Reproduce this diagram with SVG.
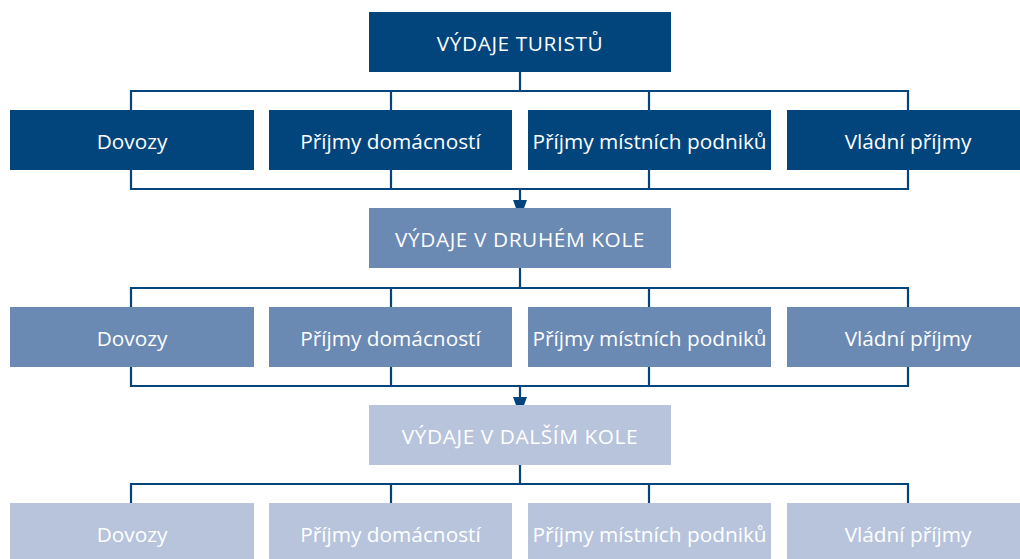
<svg xmlns="http://www.w3.org/2000/svg" width="1020" height="559" viewBox="0 0 1020 559">
  <style>
    .lbl { font-family: "Open Sans", "Noto Sans", "Liberation Sans", sans-serif; font-size: 20.8px; font-weight: 500; fill: #ffffff; text-anchor: middle; }
    .caps { letter-spacing: 0.6px; }
    .dark { fill: #02457c; }
    .mid { fill: #6a89b3; }
    .light { fill: #b7c4dc; }
    .wire { fill: none; stroke: #02457c; stroke-width: 2.2; }
    .head { fill: #02457c; }
  </style>

  <rect width="1020" height="559" fill="#ffffff"/>

  <!-- connectors -->
  <g id="connectors">
    <!-- level 1 -->
    <path class="wire" d="M520 72 V91 M131 110 V91 H908 V110 M391 91 V110 M649 91 V110"/>
    <path class="wire" d="M131 170 V189 H908 V170 M391 170 V189 M649 170 V189 M520 189 V202"/>
    <polygon class="head" points="513,200 527,200 520,219"/>
    <!-- level 2 -->
    <path class="wire" d="M520 268 V288 M131 307 V288 H908 V307 M391 288 V307 M649 288 V307"/>
    <path class="wire" d="M131 367 V386 H908 V367 M391 367 V386 M649 367 V386 M520 386 V399"/>
    <polygon class="head" points="513,397 527,397 520,416"/>
    <!-- level 3 -->
    <path class="wire" d="M520 465 V484 M131 503 V484 H908 V503 M391 484 V503 M649 484 V503"/>
  </g>

  <!-- level 1 -->
  <g id="spend-tourists">
    <rect class="dark" x="369" y="12" width="302" height="60"/>
    <text class="lbl caps" x="520" y="51">VÝDAJE TURISTŮ</text>
  </g>
  <g id="imports-1">
    <rect class="dark" x="10" y="110" width="244" height="60"/>
    <text class="lbl" x="132" y="149">Dovozy</text>
  </g>
  <g id="household-1">
    <rect class="dark" x="269" y="110" width="243" height="60"/>
    <text class="lbl" x="390.5" y="149">Příjmy domácností</text>
  </g>
  <g id="business-1">
    <rect class="dark" x="528" y="110" width="243" height="60"/>
    <text class="lbl" x="649.5" y="149">Příjmy místních podniků</text>
  </g>
  <g id="government-1">
    <rect class="dark" x="787" y="110" width="244" height="60"/>
    <text class="lbl" x="908" y="149">Vládní příjmy</text>
  </g>

  <!-- level 2 -->
  <g id="spend-second">
    <rect class="mid" x="369" y="208" width="302" height="60"/>
    <text class="lbl caps" x="520" y="247">VÝDAJE V DRUHÉM KOLE</text>
  </g>
  <g id="imports-2">
    <rect class="mid" x="10" y="307" width="244" height="60"/>
    <text class="lbl" x="132" y="346">Dovozy</text>
  </g>
  <g id="household-2">
    <rect class="mid" x="269" y="307" width="243" height="60"/>
    <text class="lbl" x="390.5" y="346">Příjmy domácností</text>
  </g>
  <g id="business-2">
    <rect class="mid" x="528" y="307" width="243" height="60"/>
    <text class="lbl" x="649.5" y="346">Příjmy místních podniků</text>
  </g>
  <g id="government-2">
    <rect class="mid" x="787" y="307" width="244" height="60"/>
    <text class="lbl" x="908" y="346">Vládní příjmy</text>
  </g>

  <!-- level 3 -->
  <g id="spend-next">
    <rect class="light" x="369" y="405" width="302" height="60"/>
    <text class="lbl caps" x="520" y="444">VÝDAJE V DALŠÍM KOLE</text>
  </g>
  <g id="imports-3">
    <rect class="light" x="10" y="503" width="244" height="60"/>
    <text class="lbl" x="132" y="542">Dovozy</text>
  </g>
  <g id="household-3">
    <rect class="light" x="269" y="503" width="243" height="60"/>
    <text class="lbl" x="390.5" y="542">Příjmy domácností</text>
  </g>
  <g id="business-3">
    <rect class="light" x="528" y="503" width="243" height="60"/>
    <text class="lbl" x="649.5" y="542">Příjmy místních podniků</text>
  </g>
  <g id="government-3">
    <rect class="light" x="787" y="503" width="244" height="60"/>
    <text class="lbl" x="908" y="542">Vládní příjmy</text>
  </g>
</svg>
